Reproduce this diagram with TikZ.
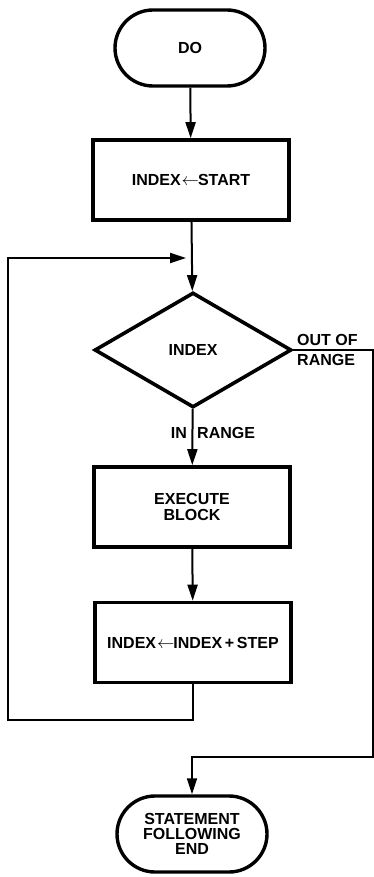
\documentclass[tikz,border=0pt]{standalone}
\usepackage{fontspec}
\setmainfont{Liberation Sans}
\usetikzlibrary{shapes.geometric,shapes.misc,arrows.meta}

\newcommand{\assignarrow}{\kern1pt{\normalfont$\leftarrow$}\kern-1pt}

\tikzset{
  terminal/.style={draw,rounded rectangle,line width=3.4pt,minimum width=154pt,minimum height=76pt,align=center,inner sep=2pt},
  process/.style={draw,rectangle,line width=3.6pt,minimum width=196pt,minimum height=80pt,align=center},
  decision/.style={draw,diamond,line width=3.6pt,minimum width=197pt,minimum height=115pt,inner sep=0pt},
  flow/.style={line width=2pt,-{Triangle[length=16pt,width=10pt]}},
  tag/.style={inner sep=0pt,align=left}
}

\begin{document}
\begin{tikzpicture}[x=1pt,y=-1pt,font=\fontsize{16}{16}\selectfont\bfseries]
\useasboundingbox (0,0) rectangle (374,877);
\node[terminal] (do) at (190,48) {DO};
\node[process] (start) at (191,180) {INDEX\assignarrow START};
\node[decision] (index) at (193,350) {INDEX};
\node[process] (exec) at (192,507) {EXECUTE\\BLOCK};
\node[process] (step) at (193,642.5) {INDEX\assignarrow INDEX\,+\,STEP};
\node[terminal] (stop) at (192,834) {STATEMENT\\[-1pt]FOLLOWING\\[-1pt]END};
\node[tag,anchor=west] (out) at (297,350) {OUT OF\\[4pt]RANGE};
\node[tag,anchor=east] (in) at (187,433) {IN};
\node[tag,anchor=west] (inrange) at (197,433) {RANGE};
\coordinate (loopbl) at (8,720);
\coordinate (loopin) at (186,258);
\coordinate (outbr) at (372.5,757);
\draw[flow] (do) -- (start);
\draw[flow] (start) -- (index);
\draw[flow] (index) -- (exec);
\draw[flow] (exec) -- (step);
\draw[flow] (step.south) |- (loopbl) |- (loopin);
\draw[flow] (index.east) -| (outbr) -| (stop.north);
\end{tikzpicture}
\end{document}
